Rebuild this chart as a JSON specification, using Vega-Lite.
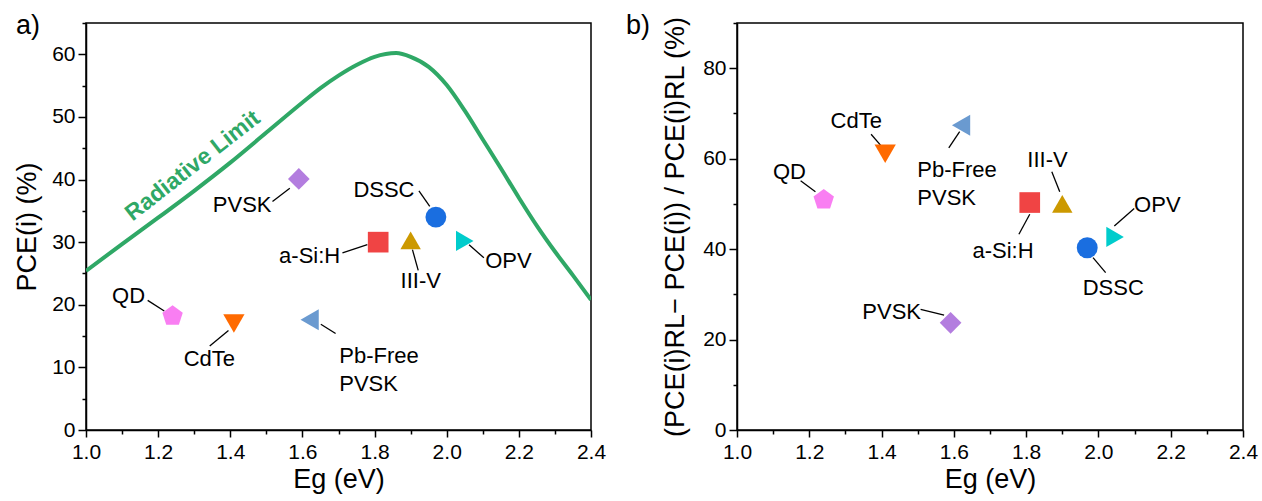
{
  "$schema": "https://vega.github.io/schema/vega-lite/v6.json",
  "autosize": {"type": "pad"},
  "padding": {"left": 12, "top": 11, "right": 5, "bottom": 5},
  "config": {
    "font": "Liberation Sans",
    "view": {"stroke": "#000000", "strokeWidth": 1.5},
    "axis": {"grid": false, "domainColor": "#000000", "tickColor": "#000000", "labelColor": "#000000", "titleColor": "#000000", "labelFont": "Liberation Sans", "titleFont": "Liberation Sans", "labelFontSize": 21, "titleFontSize": 27, "titleFontWeight": "normal", "domainWidth": 1.5, "tickWidth": 1.5, "labelFlush": false},
    "title": {"font": "Liberation Sans", "fontSize": 27, "fontWeight": "normal", "color": "#000000"}
  },
  "datasets": {
    "curve": [
      {"x": 1.0, "y": 25.4}, {"x": 1.1, "y": 29.7}, {"x": 1.2, "y": 33.9}, {"x": 1.3, "y": 38.2}, {"x": 1.4, "y": 42.7}, {"x": 1.5, "y": 47.5}, {"x": 1.6, "y": 52.3}, {"x": 1.65, "y": 54.6}, {"x": 1.7, "y": 56.6}, {"x": 1.75, "y": 58.3}, {"x": 1.8, "y": 59.6}, {"x": 1.86, "y": 60.2}, {"x": 1.9, "y": 59.6}, {"x": 1.95, "y": 58.0}, {"x": 2.0, "y": 55.1}, {"x": 2.05, "y": 51.0}, {"x": 2.1, "y": 46.4}, {"x": 2.15, "y": 41.8}, {"x": 2.2, "y": 37.1}, {"x": 2.25, "y": 32.6}, {"x": 2.3, "y": 28.5}, {"x": 2.35, "y": 24.7}, {"x": 2.4, "y": 20.8}
    ],
    "curveLabel": [{"x": 1.296, "y": 42.2, "text": "Radiative Limit"}],
    "ptsA": [
      {"name": "PVSK", "x": 1.59, "y": 40.1},
      {"name": "QD", "x": 1.24, "y": 18.2},
      {"name": "CdTe", "x": 1.41, "y": 17.0},
      {"name": "Pb-Free PVSK", "x": 1.62, "y": 17.6},
      {"name": "DSSC", "x": 1.97, "y": 34.0},
      {"name": "a-Si:H", "x": 1.81, "y": 30.0},
      {"name": "III-V", "x": 1.90, "y": 30.3},
      {"name": "OPV", "x": 2.05, "y": 30.2}
    ],
    "labA": [
      {"text": "PVSK", "x": 1.433, "y": 35.9},
      {"text": "QD", "x": 1.118, "y": 21.4},
      {"text": "CdTe", "x": 1.342, "y": 11.4},
      {"text": "DSSC", "x": 1.826, "y": 38.4},
      {"text": "a-Si:H", "x": 1.62, "y": 27.8},
      {"text": "III-V", "x": 1.928, "y": 23.8},
      {"text": "OPV", "x": 2.171, "y": 27.0}
    ],
    "labA2": [{"text": "Pb-Free\nPVSK", "x": 1.702, "y": 11.8}],
    "legA": [
      {"x": 1.517, "y": 36.5, "x2": 1.565, "y2": 38.6},
      {"x": 1.171, "y": 20.7, "x2": 1.217, "y2": 19.0},
      {"x": 1.343, "y": 13.4, "x2": 1.395, "y2": 15.9},
      {"x": 1.651, "y": 16.9, "x2": 1.692, "y2": 15.4},
      {"x": 1.923, "y": 38.2, "x2": 1.953, "y2": 35.7},
      {"x": 1.711, "y": 28.3, "x2": 1.780, "y2": 29.6},
      {"x": 1.905, "y": 28.8, "x2": 1.921, "y2": 25.5},
      {"x": 2.062, "y": 29.6, "x2": 2.103, "y2": 27.5}
    ],
    "ptsB": [
      {"name": "QD", "x": 1.24, "y": 50.9},
      {"name": "CdTe", "x": 1.41, "y": 61.1},
      {"name": "Pb-Free PVSK", "x": 1.62, "y": 67.4},
      {"name": "a-Si:H", "x": 1.81, "y": 50.3},
      {"name": "III-V", "x": 1.90, "y": 50.0},
      {"name": "OPV", "x": 2.046, "y": 42.7},
      {"name": "DSSC", "x": 1.969, "y": 40.3},
      {"name": "PVSK", "x": 1.591, "y": 23.7}
    ],
    "labB": [
      {"text": "QD", "x": 1.145, "y": 57.1},
      {"text": "CdTe", "x": 1.330, "y": 68.3},
      {"text": "III-V", "x": 1.859, "y": 59.6},
      {"text": "a-Si:H", "x": 1.736, "y": 39.6},
      {"text": "OPV", "x": 2.163, "y": 49.8},
      {"text": "DSSC", "x": 2.041, "y": 31.3},
      {"text": "PVSK", "x": 1.428, "y": 26.2}
    ],
    "labB2": [{"text": "Pb-Free\nPVSK", "x": 1.499, "y": 57.4}],
    "legB": [
      {"x": 1.176, "y": 55.1, "x2": 1.217, "y2": 52.7},
      {"x": 1.371, "y": 65.4, "x2": 1.397, "y2": 63.0},
      {"x": 1.586, "y": 62.4, "x2": 1.616, "y2": 66.0},
      {"x": 1.871, "y": 57.1, "x2": 1.893, "y2": 52.7},
      {"x": 1.780, "y": 43.3, "x2": 1.810, "y2": 47.7},
      {"x": 2.044, "y": 45.1, "x2": 2.099, "y2": 49.0},
      {"x": 1.985, "y": 38.1, "x2": 2.020, "y2": 34.8},
      {"x": 1.508, "y": 26.7, "x2": 1.573, "y2": 25.4}
    ]
  },
  "spacing": 146,
  "bounds": "flush",
  "hconcat": [
    {
      "width": 505,
      "height": 407,
      "title": {"text": "a)", "anchor": "start", "frame": "group", "dx": -70, "dy": 28, "offset": 0},
      "encoding": {
        "x": {"field": "x", "type": "quantitative", "scale": {"domain": [1.0, 2.4], "nice": false, "zero": false}, "title": "Eg (eV)",
          "axis": {"values": [1.0, 1.1, 1.2, 1.3, 1.4, 1.5, 1.6, 1.7, 1.8, 1.9, 2.0, 2.1, 2.2, 2.3, 2.4], "labelExpr": "abs(datum.value*5 - round(datum.value*5)) > 0.01 ? '' : format(datum.value, '.1f')", "tickSize": {"condition": {"test": "abs(datum.value*5 - round(datum.value*5)) > 0.01", "value": 4}, "value": 7}, "labelPadding": 4, "titlePadding": 4, "labelOverlap": false}},
        "y": {"field": "y", "type": "quantitative", "scale": {"domain": [0, 65], "nice": false}, "title": "PCE(i) (%)",
          "axis": {"values": [0, 5, 10, 15, 20, 25, 30, 35, 40, 45, 50, 55, 60, 65], "labelExpr": "datum.value % 10 != 0 ? '' : format(datum.value, 'd')", "tickSize": {"condition": {"test": "datum.value % 10 != 0", "value": 4}, "value": 8}, "labelPadding": 3, "titlePadding": 10, "labelOverlap": false}}
      },
      "layer": [
        {"data": {"name": "curve"}, "mark": {"type": "line", "color": "#2fa866", "strokeWidth": 4, "interpolate": "monotone", "clip": true}},
        {"data": {"name": "curveLabel"}, "mark": {"type": "text", "color": "#2fa866", "fontWeight": "bold", "fontSize": 23, "angle": -38, "baseline": "middle", "align": "center"}, "encoding": {"text": {"field": "text"}}},
        {"data": {"name": "legA"}, "mark": {"type": "rule", "color": "#000000", "strokeWidth": 1.3}, "encoding": {"x2": {"field": "x2"}, "y2": {"field": "y2"}}},
        {"data": {"name": "ptsA"}, "mark": {"type": "point", "filled": true, "opacity": 1},
          "encoding": {
            "shape": {"field": "name", "type": "nominal", "legend": null, "scale": {"domain": ["PVSK", "QD", "CdTe", "Pb-Free PVSK", "DSSC", "a-Si:H", "III-V", "OPV"], "range": ["diamond", "M0,-1L0.951,-0.309L0.588,0.809L-0.588,0.809L-0.951,-0.309Z", "triangle-down", "triangle-left", "circle", "square", "triangle-up", "triangle-right"]}},
            "color": {"field": "name", "type": "nominal", "legend": null, "scale": {"domain": ["PVSK", "QD", "CdTe", "Pb-Free PVSK", "DSSC", "a-Si:H", "III-V", "OPV"], "range": ["#b37ddf", "#f97ef2", "#ff6a00", "#6a9ad0", "#1a6ee0", "#f04444", "#cc9900", "#00cccc"]}},
            "size": {"field": "name", "type": "nominal", "legend": null, "scale": {"domain": ["PVSK", "QD", "CdTe", "Pb-Free PVSK", "DSSC", "a-Si:H", "III-V", "OPV"], "range": [470, 410, 450, 430, 300, 280, 440, 430]}}
          }},
        {"data": {"name": "labA"}, "mark": {"type": "text", "fontSize": 22, "color": "#000000", "align": "center", "baseline": "middle"}, "encoding": {"text": {"field": "text"}}},
        {"data": {"name": "labA2"}, "mark": {"type": "text", "fontSize": 22, "color": "#000000", "align": "left", "baseline": "middle", "lineBreak": "\n", "lineHeight": 28}, "encoding": {"text": {"field": "text"}}}
      ]
    },
    {
      "width": 506,
      "height": 407,
      "title": {"text": "b)", "anchor": "start", "frame": "group", "dx": -111, "dy": 28, "offset": 0},
      "encoding": {
        "x": {"field": "x", "type": "quantitative", "scale": {"domain": [1.0, 2.4], "nice": false, "zero": false}, "title": "Eg (eV)",
          "axis": {"values": [1.0, 1.1, 1.2, 1.3, 1.4, 1.5, 1.6, 1.7, 1.8, 1.9, 2.0, 2.1, 2.2, 2.3, 2.4], "labelExpr": "abs(datum.value*5 - round(datum.value*5)) > 0.01 ? '' : format(datum.value, '.1f')", "tickSize": {"condition": {"test": "abs(datum.value*5 - round(datum.value*5)) > 0.01", "value": 4}, "value": 7}, "labelPadding": 4, "titlePadding": 4, "labelOverlap": false}},
        "y": {"field": "y", "type": "quantitative", "scale": {"domain": [0, 90], "nice": false}, "title": "(PCE(i)RL− PCE(i)) / PCE(i)RL (%)",
          "axis": {"values": [0, 10, 20, 30, 40, 50, 60, 70, 80, 90], "labelExpr": "datum.value % 20 != 0 ? '' : format(datum.value, 'd')", "tickSize": {"condition": {"test": "datum.value % 20 != 0", "value": 4}, "value": 8}, "labelPadding": 3, "titlePadding": 13, "titleFontSize": 27, "labelOverlap": false}}
      },
      "layer": [
        {"data": {"name": "legB"}, "mark": {"type": "rule", "color": "#000000", "strokeWidth": 1.3}, "encoding": {"x2": {"field": "x2"}, "y2": {"field": "y2"}}},
        {"data": {"name": "ptsB"}, "mark": {"type": "point", "filled": true, "opacity": 1},
          "encoding": {
            "shape": {"field": "name", "type": "nominal", "legend": null, "scale": {"domain": ["PVSK", "QD", "CdTe", "Pb-Free PVSK", "DSSC", "a-Si:H", "III-V", "OPV"], "range": ["diamond", "M0,-1L0.951,-0.309L0.588,0.809L-0.588,0.809L-0.951,-0.309Z", "triangle-down", "triangle-left", "circle", "square", "triangle-up", "triangle-right"]}},
            "color": {"field": "name", "type": "nominal", "legend": null, "scale": {"domain": ["PVSK", "QD", "CdTe", "Pb-Free PVSK", "DSSC", "a-Si:H", "III-V", "OPV"], "range": ["#b37ddf", "#f97ef2", "#ff6a00", "#6a9ad0", "#1a6ee0", "#f04444", "#cc9900", "#00cccc"]}},
            "size": {"field": "name", "type": "nominal", "legend": null, "scale": {"domain": ["PVSK", "QD", "CdTe", "Pb-Free PVSK", "DSSC", "a-Si:H", "III-V", "OPV"], "range": [470, 410, 450, 430, 300, 280, 440, 430]}}
          }},
        {"data": {"name": "labB"}, "mark": {"type": "text", "fontSize": 22, "color": "#000000", "align": "center", "baseline": "middle"}, "encoding": {"text": {"field": "text"}}},
        {"data": {"name": "labB2"}, "mark": {"type": "text", "fontSize": 22, "color": "#000000", "align": "left", "baseline": "middle", "lineBreak": "\n", "lineHeight": 28}, "encoding": {"text": {"field": "text"}}}
      ]
    }
  ]
}
